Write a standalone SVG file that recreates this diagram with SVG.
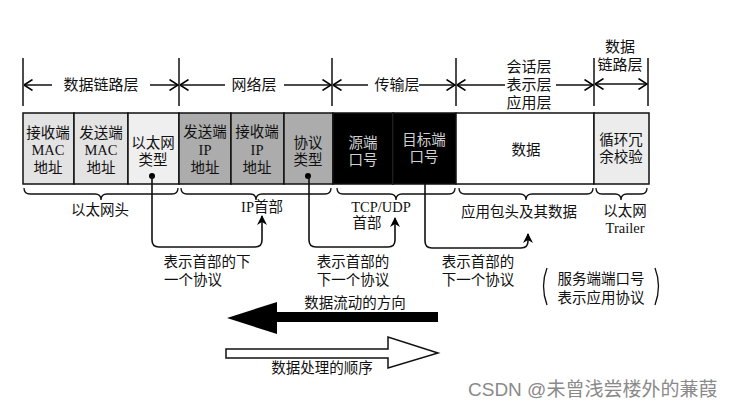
<svg xmlns="http://www.w3.org/2000/svg" width="734" height="409" viewBox="0 0 734 409">
<defs>
<marker id="chev" viewBox="0 0 10 12" refX="9.5" refY="6" markerWidth="10" markerHeight="12" markerUnits="userSpaceOnUse" orient="auto-start-reverse">
<path d="M1 0.5 L9.5 6 L1 11.5" fill="none" stroke="#000" stroke-width="1.5"/>
</marker>
<marker id="tri" viewBox="0 0 10 10" refX="9" refY="5" markerWidth="10" markerHeight="11" markerUnits="userSpaceOnUse" orient="auto">
<path d="M0 0 L10 5 L0 10 L3 5 Z" fill="#000"/>
</marker>
</defs>
<style>
text{font-family:"Liberation Serif","Noto Sans CJK SC",serif;font-size:14.5px;fill:#111;text-anchor:middle}
.lay{font-size:15px}
.cell{stroke:#111;stroke-width:1.5}
.w{fill:#d0d0d0}
.ln{stroke:#111;stroke-width:1.5;fill:none}
.br{stroke:#111;stroke-width:1.3;fill:none}
.con{stroke:#111;stroke-width:1.6;fill:none}
.wm{font-family:"Liberation Sans","Noto Sans CJK SC",sans-serif;font-size:19px;fill:#8a8a8a;text-anchor:start}
</style>
<rect width="734" height="409" fill="#fff"/>

<g id="layers">
<g class="ln">
<line x1="23" y1="58" x2="23" y2="106"/>
<line x1="179" y1="58" x2="179" y2="106"/>
<line x1="332" y1="58" x2="332" y2="106"/>
<line x1="456" y1="58" x2="456" y2="106"/>
<line x1="594" y1="58" x2="594" y2="106"/>
<line x1="648" y1="58" x2="648" y2="106"/>
<line x1="52" y1="85" x2="24" y2="85" marker-end="url(#chev)"/>
<line x1="150" y1="85" x2="178" y2="85" marker-end="url(#chev)"/>
<line x1="225" y1="85" x2="180" y2="85" marker-end="url(#chev)"/>
<line x1="284" y1="85" x2="331" y2="85" marker-end="url(#chev)"/>
<line x1="368" y1="85" x2="333" y2="85" marker-end="url(#chev)"/>
<line x1="419" y1="85" x2="455" y2="85" marker-end="url(#chev)"/>
<line x1="505" y1="85" x2="457" y2="85" marker-end="url(#chev)"/>
<line x1="556" y1="85" x2="593" y2="85" marker-end="url(#chev)"/>
<line x1="595" y1="84" x2="647" y2="84" marker-start="url(#chev)" marker-end="url(#chev)"/>
</g>
<text class="lay" x="101" y="90">数据链路层</text>
<text class="lay" x="254" y="90">网络层</text>
<text class="lay" x="397" y="90">传输层</text>
<text class="lay" x="529" y="72">会话层</text>
<text class="lay" x="529" y="90">表示层</text>
<text class="lay" x="529" y="108">应用层</text>
<text class="lay" x="620" y="52">数据</text>
<text class="lay" x="620" y="70">链路层</text>
</g>

<g id="cell-dst-mac"><rect class="cell" x="23" y="113" width="51" height="71" fill="#e3e3e3"/>
<text x="48" y="138">接收端</text><text x="48" y="155">MAC</text><text x="48" y="173">地址</text></g>
<g id="cell-src-mac"><rect class="cell" x="74" y="113" width="54" height="71" fill="#e3e3e3"/>
<text x="101" y="138">发送端</text><text x="101" y="155">MAC</text><text x="101" y="173">地址</text></g>
<g id="cell-ethtype"><rect class="cell" x="128" y="113" width="51" height="71" fill="#efefef"/>
<text x="153" y="148">以太网</text><text x="153" y="165">类型</text><circle cx="152" cy="176" r="3" fill="#000"/></g>
<g id="cell-src-ip"><rect class="cell" x="179" y="113" width="52" height="71" fill="#acacac"/>
<text x="205" y="137">发送端</text><text x="205" y="155">IP</text><text x="205" y="173">地址</text></g>
<g id="cell-dst-ip"><rect class="cell" x="231" y="113" width="53" height="71" fill="#acacac"/>
<text x="257" y="137">接收端</text><text x="257" y="155">IP</text><text x="257" y="173">地址</text></g>
<g id="cell-proto"><rect class="cell" x="284" y="113" width="49" height="71" fill="#acacac"/>
<text x="308" y="148">协议</text><text x="308" y="165">类型</text><circle cx="308" cy="176" r="3" fill="#000"/></g>
<g id="cell-src-port"><rect class="cell" x="333" y="113" width="60" height="71" fill="#000"/>
<line x1="393" y1="113" x2="393" y2="184" stroke="#888" stroke-width="1"/>
<text class="w" x="363" y="148">源端</text><text class="w" x="363" y="165">口号</text></g>
<g id="cell-dst-port"><rect class="cell" x="393" y="113" width="63" height="71" fill="#000"/>
<text class="w" x="424" y="145">目标端</text><text class="w" x="424" y="162">口号</text></g>
<g id="cell-data"><rect class="cell" x="456" y="113" width="138" height="71" fill="#fff"/>
<text x="526" y="155">数据</text></g>
<g id="cell-crc"><rect class="cell" x="594" y="113" width="55" height="71" fill="#ececec"/>
<text x="621" y="145">循环冗</text><text x="621" y="162">余校验</text></g>

<g id="braces" class="br">
<path d="M24 188 q0 6 6 6 H95 q6 0 6 6 q0 -6 6 -6 H172 q6 0 6 -6"/>
<path d="M181 188 q0 6 6 6 H250 q6 0 6 6 q0 -6 6 -6 H325 q6 0 6 -6"/>
<path d="M337 188 q0 6 6 6 H390 q6 0 6 6 q0 -6 6 -6 H449 q6 0 6 -6"/>
<path d="M459 188 q0 6 6 6 H520 q6 0 6 6 q0 -6 6 -6 H587 q6 0 6 -6"/>
<path d="M596 188 q0 6 6 6 H615 q6 0 6 6 q0 -6 6 -6 H641 q6 0 6 -6"/>
</g>
<g id="brace-labels">
<text x="100" y="215">以太网头</text>
<text x="262" y="212">IP首部</text>
<text x="381" y="212">TCP/UDP</text>
<text x="367" y="228">首部</text>
<text x="519" y="217">应用包头及其数据</text>
<text x="625" y="216">以太网</text>
<text x="625" y="233">Trailer</text>
</g>

<g id="connectors">
<path class="con" d="M152 176 V240 Q152 247 159 247 H255 Q262 247 262 240 V216" marker-end="url(#tri)"/>
<path class="con" d="M309 176 V240 Q309 247 316 247 H388 Q395 247 395 240 V218" marker-end="url(#tri)"/>
<path class="con" d="M425 184 V241 Q425 248 432 248 H521 Q528 248 528 241 V234" marker-end="url(#tri)"/>
</g>
<g id="notes">
<text x="207" y="267">表示首部的下</text>
<text x="193" y="285">一个协议</text>
<text x="353" y="267">表示首部的</text>
<text x="353" y="285">下一个协议</text>
<text x="478" y="267">表示首部的</text>
<text x="478" y="285">下一个协议</text>
<text x="601" y="284">服务端端口号</text>
<text x="601" y="303">表示应用协议</text>
<path class="br" d="M547 268 Q540 286 547 305"/>
<path class="br" d="M655 268 Q662 286 655 305"/>
</g>

<g id="flow-arrows">
<path d="M438 312 H277 V302 L227 318 L277 334 V322 H438 Z" fill="#000"/>
<text x="355" y="308">数据流动的方向</text>
<path d="M226 349 H388 V337 L438 353 L388 368 V358 H226 Z" fill="#fff" stroke="#111" stroke-width="1.5"/>
<text x="322" y="373">数据处理的顺序</text>
</g>

<text class="wm" x="468" y="396">CSDN @未曾浅尝楼外的蒹葭</text>
</svg>
